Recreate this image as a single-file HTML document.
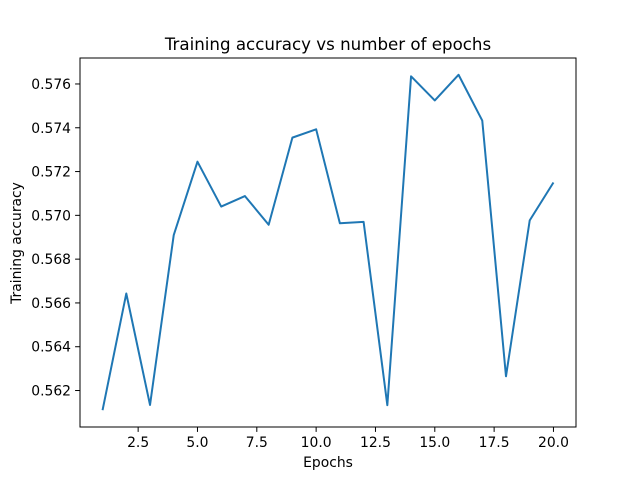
<!DOCTYPE html>
<html><head><meta charset="utf-8"><style>
body{margin:0;background:#fff;}
svg text{font-family:"DejaVu Sans","Liberation Sans",sans-serif;fill:#000;}
</style></head><body>
<svg id="chart" width="640" height="480" xmlns="http://www.w3.org/2000/svg">
<rect width="640" height="480" fill="#fff"/>
<text x="328" y="50" font-size="16.67" text-anchor="middle">Training accuracy vs number of epochs</text>
<text x="328" y="467" font-size="13.89" text-anchor="middle">Epochs</text>
<text transform="translate(21,243) rotate(-90)" font-size="13.89" text-anchor="middle">Training accuracy</text>
<g id="ticks"></g>
<path id="line" fill="none" stroke="#1f77b4" stroke-width="2" stroke-linejoin="round"/>
<rect x="80" y="58" width="496" height="369" fill="none" stroke="#000" stroke-width="1"/>
</svg>
<script>
const epochs=[1,2,3,4,5,6,7,8,9,10,11,12,13,14,15,16,17,18,19,20];
const accuracy=[0.5611,0.56643,0.56134,0.5691,0.57245,0.5704,0.57088,0.56957,0.57355,0.57393,0.56964,0.5697,0.56133,0.57635,0.57525,0.57642,0.57433,0.56265,0.56977,0.5715];
const xTicks=[2.5,5.0,7.5,10.0,12.5,15.0,17.5,20.0];
const yTicks=[0.562,0.564,0.566,0.568,0.570,0.572,0.574,0.576];
const L=80,R=576,T=58,B=427;
const xmin=Math.min(...epochs),xmax=Math.max(...epochs),xm=(xmax-xmin)*0.05;
const ymin=Math.min(...accuracy),ymax=Math.max(...accuracy),ym=(ymax-ymin)*0.05;
const x=v=>L+(v-(xmin-xm))/((xmax+xm)-(xmin-xm))*(R-L);
const y=v=>B-(v-(ymin-ym))/((ymax+ym)-(ymin-ym))*(B-T);
const NS="http://www.w3.org/2000/svg";
const g=document.getElementById('ticks');
function mk(tag,attrs,txt){const e=document.createElementNS(NS,tag);for(const k in attrs)e.setAttribute(k,attrs[k]);if(txt!==undefined)e.textContent=txt;g.appendChild(e);return e;}
xTicks.forEach(t=>{const px=x(t);
const l=mk('line',{x1:px,x2:px,y1:B,y2:B+4.9,stroke:'#000','stroke-width':1});


const s=mk('text',{x:px,y:B+20,'font-size':13.89,'text-anchor':'middle'},t.toFixed(1));


});
yTicks.forEach(t=>{const py=y(t);
const l=mk('line',{x1:L-4.9,x2:L,y1:py,y2:py,stroke:'#000','stroke-width':1});


const s=mk('text',{x:L-9,y:py+5,'font-size':13.89,'text-anchor':'end'},t.toFixed(3));


});
document.getElementById('line').setAttribute('d',epochs.map((e,i)=>(i?'L':'M')+x(e).toFixed(2)+','+y(accuracy[i]).toFixed(2)).join(''));
</script>
</body></html>
